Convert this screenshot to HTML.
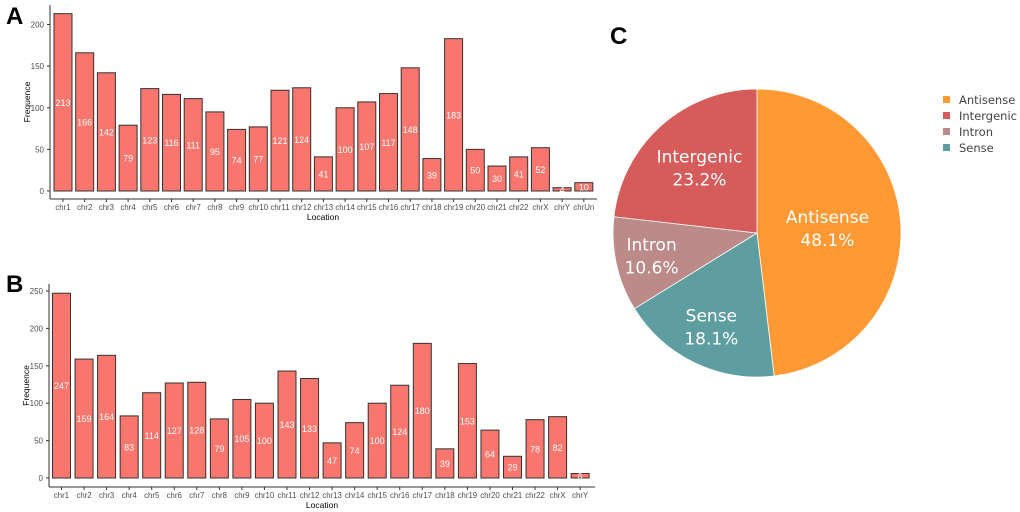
<!DOCTYPE html>
<html><head><meta charset="utf-8"><style>
body{margin:0;background:#fff;}
svg{display:block;font-family:"Liberation Sans",sans-serif;}
</style></head><body>
<svg id="s" width="1020" height="512"></svg>
<script>
const catsA=["chr1","chr2","chr3","chr4","chr5","chr6","chr7","chr8","chr9","chr10","chr11","chr12","chr13","chr14","chr15","chr16","chr17","chr18","chr19","chr20","chr21","chr22","chrX","chrY","chrUn"];
const valsA=[213,166,142,79,123,116,111,95,74,77,121,124,41,100,107,117,148,39,183,50,30,41,52,4,10];
const ticksA=[0,50,100,150,200];
const catsB=["chr1","chr2","chr3","chr4","chr5","chr6","chr7","chr8","chr9","chr10","chr11","chr12","chr13","chr14","chr15","chr16","chr17","chr18","chr19","chr20","chr21","chr22","chrX","chrY"];
const valsB=[247,159,164,83,114,127,128,79,105,100,143,133,47,74,100,124,180,39,153,64,29,78,82,6];
const ticksB=[0,50,100,150,200,250];
const pieLabels=["Antisense","Sense","Intron","Intergenic"];
const pieVals=[48.1,18.1,10.6,23.2];
const legendLabels=["Antisense","Intergenic","Intron","Sense"];
const labelRadius=[0.49,0.73,0.75,0.6];

const NS="http://www.w3.org/2000/svg";
const svg=document.getElementById('s');
function el(t,a,p){const e=document.createElementNS(NS,t);for(const k in a)e.setAttribute(k,a[k]);(p||svg).appendChild(e);return e;}
function txt(s,a,p){const e=el('text',a,p);e.textContent=s;return e;}

function bar(cats,vals,ticks,o){
  const g=el('g',{});
  
  
  const y=v=>o.y0-v*o.k, x=i=>o.c0+i*o.pitch;
  ticks.forEach(t=>{
    el('line',{x1:o.ax-3,x2:o.ax,y1:y(t),y2:y(t),stroke:'#333'},g);
    const l=txt(t,{x:o.ax-6,y:y(t)+3,'font-size':8,fill:'#4d4d4d','text-anchor':'end'},g);
    
    
  });
  cats.forEach((c,i)=>{
    const r=el('rect',{x:x(i)-o.bw/2,y:y(vals[i]),width:o.bw,height:vals[i]*o.k,fill:'#F8766D',stroke:'#333','stroke-width':1},g);
    
    
    const v=txt(vals[i],{x:x(i),y:y(vals[i]/2)+3.5,'font-size':9,fill:'#fff','text-anchor':'middle'},g);
    
    
    el('line',{x1:x(i),x2:x(i),y1:o.xa,y2:o.xa+3,stroke:'#333'},g);
    const l=txt(c,{x:x(i),y:o.xa+11,'font-size':7.8,fill:'#4d4d4d','text-anchor':'middle'},g);
    
    
  });
  el('line',{x1:o.ax,x2:o.ax,y1:o.top,y2:o.xa,stroke:'#333'},g);
  el('line',{x1:o.ax,x2:o.right,y1:o.xa,y2:o.xa,stroke:'#333'},g);
  const xt=txt('Location',{x:o.xt,y:o.xa+21,'font-size':8.5,fill:'#000','text-anchor':'middle'},g);
  
  
  const yt=txt('Frequence',{x:0,y:0,'font-size':8.5,fill:'#000','text-anchor':'middle',transform:`translate(${o.ax-20},${(o.top+o.xa)/2}) rotate(-90)`},g);
  
  
}
bar(catsA,valsA,ticksA,{name:'chart-a',ax:50,y0:191,k:0.8325,c0:63,pitch:21.7,bw:18,xa:199,top:5,right:597,xt:323});
bar(catsB,valsB,ticksB,{name:'chart-b',ax:49,y0:478,k:0.748,c0:61.5,pitch:22.55,bw:18,xa:487,top:284,right:595,xt:322});

[['A',6,24],['B',6,292],['C',610,44]].forEach(([s,x,y])=>{
  const t=txt(s,{x:x,y:y,'font-size':24,'font-weight':'bold',fill:'#000'});
  
  
});

const colors={Antisense:'#FF9933',Intergenic:'#D65C5C',Intron:'#BC8A89',Sense:'#5F9EA0'};
const cx=757,cy=233,R=144;
const tot=pieVals.reduce((a,b)=>a+b,0);
let a0=0;
pieVals.forEach((v,i)=>{
  const a1=a0+v/tot*2*Math.PI;
  const p=(a)=>[cx+R*Math.sin(a),cy-R*Math.cos(a)];
  const [x0,y0]=p(a0),[x1,y1]=p(a1);
  const s=el('path',{d:`M${cx},${cy}L${x0},${y0}A${R},${R} 0 ${a1-a0>Math.PI?1:0} 1 ${x1},${y1}Z`,fill:colors[pieLabels[i]],stroke:'#fff','stroke-width':0.8});
  
  
  const am=(a0+a1)/2, rr=R*labelRadius[i];
  const lx=cx+rr*Math.sin(am), ly=cy-rr*Math.cos(am);
  const t1=txt(pieLabels[i],{x:lx,y:ly-6,'font-size':17,fill:'#fff','text-anchor':'middle','font-family':'DejaVu Sans, sans-serif'});
  
  
  const t2=txt(v.toFixed(1)+'%',{x:lx,y:ly+17,'font-size':17,fill:'#fff','text-anchor':'middle','font-family':'DejaVu Sans, sans-serif'});
  
  
  a0=a1;
});
legendLabels.forEach((l,i)=>{
  const r=el('rect',{x:943,y:96+i*16,width:7,height:7,fill:colors[l]});
  
  
  const t=txt(l,{x:959,y:104+i*16,'font-size':11.5,fill:'#444','font-family':'DejaVu Sans, sans-serif'});
  
  
});
</script>
</body></html>
